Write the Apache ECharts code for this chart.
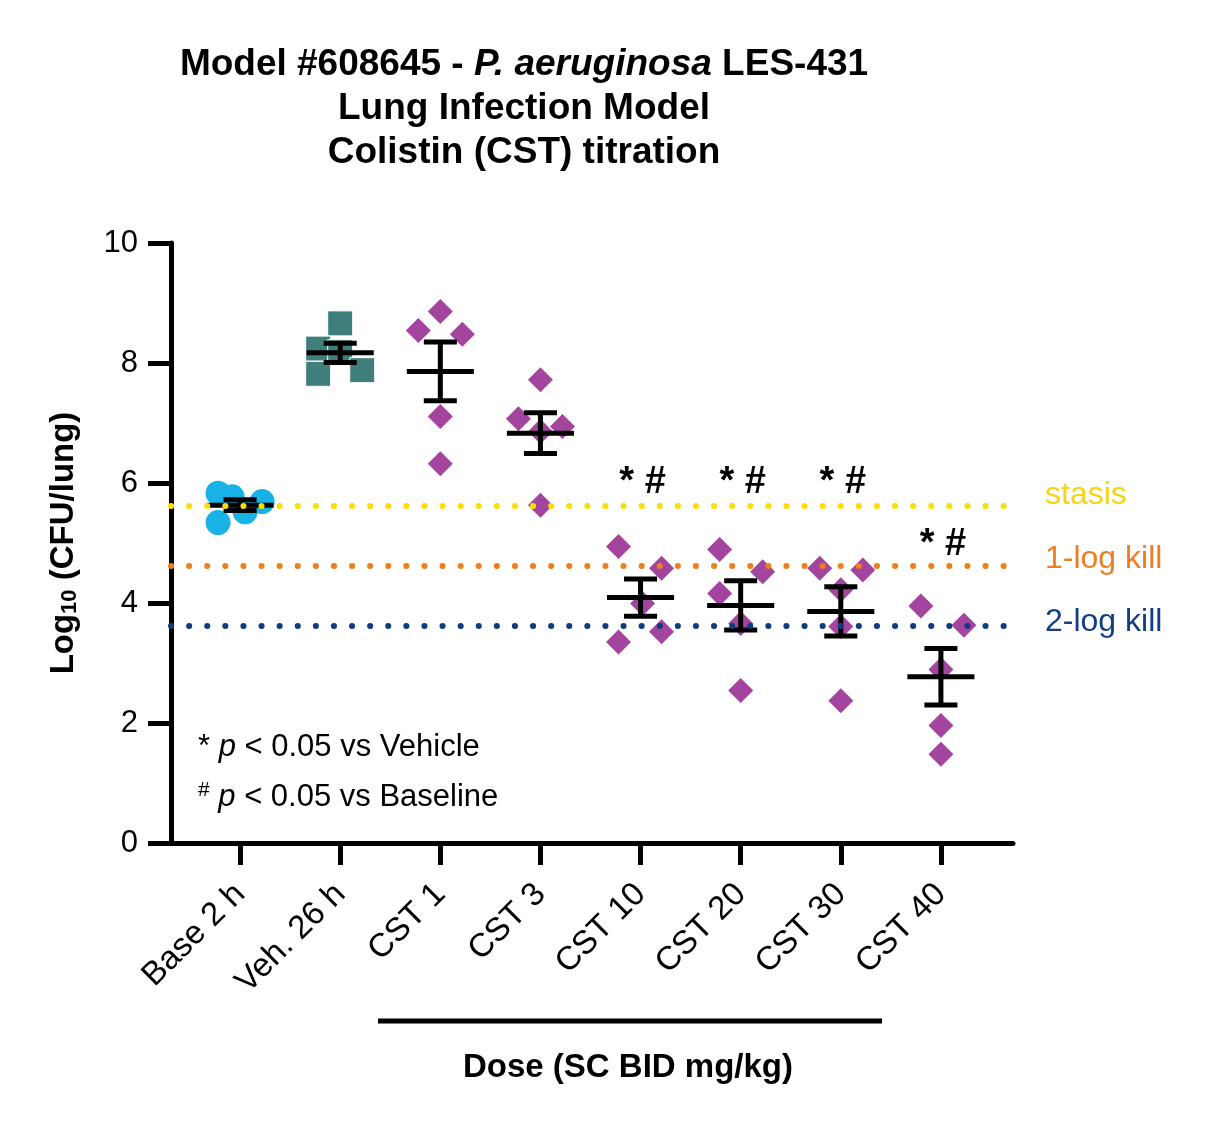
<!DOCTYPE html>
<html>
<head>
<meta charset="utf-8">
<script src="https://cdn.jsdelivr.net/npm/echarts@6/dist/echarts.min.js"></script>
<style>
html, body { margin: 0; padding: 0; background: #fff; }
#chartDom { width: 1205px; height: 1131px; }
</style>
</head>
<body>
<div id="chartDom"></div>
<script>
var groups = ['Base 2 h', 'Veh. 26 h', 'CST 1', 'CST 3', 'CST 10', 'CST 20', 'CST 30', 'CST 40'];

// log10 CFU/lung, one value per animal
var baseVals = [5.83, 5.77, 5.69, 5.52, 5.34];
var vehVals = [8.66, 8.24, 8.18, 7.88, 7.82];
var cst1Vals = [8.86, 8.54, 8.48, 7.11, 6.32];
var cst3Vals = [7.72, 7.07, 6.94, 6.86, 5.63];
var cst10Vals = [4.94, 4.58, 3.99, 3.52, 3.35];
var cst20Vals = [4.89, 4.52, 4.16, 3.66, 2.54];
var cst30Vals = [4.58, 4.55, 4.22, 3.61, 2.37];
var cst40Vals = [3.95, 3.63, 2.89, 1.96, 1.48];

// sideways spread of the points inside each column
var baseJitter = [-0.22, -0.08, 0.22, 0.05, -0.22];
var vehJitter = [0, -0.22, 0, 0.22, -0.22];
var cst1Jitter = [0, -0.22, 0.22, 0, 0];
var cst3Jitter = [0, -0.22, 0.22, 0, 0];
var cst10Jitter = [-0.22, 0.21, 0.02, 0.21, -0.22];
var cst20Jitter = [-0.21, 0.22, -0.21, 0, 0];
var cst30Jitter = [-0.21, 0.22, 0, 0, 0];
var cst40Jitter = [-0.2, 0.23, 0, 0, 0];

// mean +/- SEM per group
var means = [5.63, 8.17, 7.86, 6.83, 4.09, 3.96, 3.86, 2.77];
var sems = [0.09, 0.16, 0.49, 0.34, 0.31, 0.41, 0.41, 0.47];

var refLevels = [5.62, 4.62, 3.62];
var refNames = ['stasis', '1-log kill', '2-log kill'];
var refColors = ['#FFDD00', '#EF7E1D', '#0E3C7E'];
var refTextColors = ['#F8D316', '#EE7E22', '#123E82'];

var sigGroups = [4, 5, 6, 7];
var sigLevels = [6.0, 6.0, 6.0, 4.97];

var xTicks = [0, 1, 2, 3, 4, 5, 6, 7];

var FONT = 'Liberation Sans, Arial, Helvetica, sans-serif';

function points(idx, vals, jit) {
	return vals.map(function(v, k) {
		return [idx + jit[k], v];
	});
}

var diamondData = [].concat(
	points(2, cst1Vals, cst1Jitter),
	points(3, cst3Vals, cst3Jitter),
	points(4, cst10Vals, cst10Jitter),
	points(5, cst20Vals, cst20Jitter),
	points(6, cst30Vals, cst30Jitter),
	points(7, cst40Vals, cst40Jitter)
);

var errData = means.map(function(m, i) {
	return [i, m, sems[i]];
});

var sigData = sigGroups.map(function(g, i) {
	return [g, sigLevels[i]];
});

var refLines = refLevels.map(function(lv, i) {
	return {
		yAxis: lv,
		lineStyle: {
			color: refColors[i],
			width: 6,
			type: [0.1, 18],
			cap: 'round'
		}
	};
});

var dom = document.getElementById('chartDom');
var myChart = echarts.init(dom);

var option = {
	animation: false,
	backgroundColor: '#fff',
	textStyle: {
		fontFamily: FONT,
		color: '#000'
	},
	grid: {
		left: 171,
		right: 192,
		top: 243,
		bottom: 288
	},
	xAxis: {
		type: 'value',
		min: -0.69,
		max: 7.72,
		splitLine: { show: false },
		axisLine: {
			show: true,
			onZero: false,
			lineStyle: { color: '#000', width: 5 }
		},
		axisTick: {
			show: true,
			length: 22,
			customValues: xTicks,
			lineStyle: { color: '#000', width: 5 }
		},
		axisLabel: {
			customValues: xTicks,
			formatter: function(v) {
				return groups[Math.round(v)];
			},
			rotate: 45,
			margin: 46,
			fontSize: 33,
			color: '#000',
			fontFamily: FONT
		}
	},
	yAxis: {
		type: 'value',
		min: 0,
		max: 10,
		interval: 2,
		name: '{a|Log}{s|10}{a| (CFU/lung)}',
		nameLocation: 'middle',
		nameRotate: 90,
		nameGap: 90,
		nameTextStyle: {
			rich: {
				a: { fontSize: 33, fontWeight: 'bold', fontFamily: FONT, color: '#000' },
				s: { fontSize: 22, fontWeight: 'bold', fontFamily: FONT, color: '#000', verticalAlign: 'bottom', padding: [12, 0, 0, 0] }
			}
		},
		splitLine: { show: false },
		axisLine: {
			show: true,
			onZero: false,
			lineStyle: { color: '#000', width: 5 }
		},
		axisTick: {
			show: true,
			length: 23,
			lineStyle: { color: '#000', width: 5 }
		},
		axisLabel: {
			margin: 33,
			fontSize: 31,
			color: '#000',
			fontFamily: FONT
		}
	},
	graphic: [
		{
			type: 'text',
			x: 524,
			y: 43,
			style: {
				text: '{b|Model #608645 - }{i|P. aeruginosa}{b| LES-431}\n{b|Lung Infection Model}\n{b|Colistin (CST) titration}',
				align: 'center',
				verticalAlign: 'top',
				rich: {
					b: { fontSize: 37, fontWeight: 'bold', fontFamily: FONT, lineHeight: 44, fill: '#000' },
					i: { fontSize: 37, fontWeight: 'bold', fontStyle: 'italic', fontFamily: FONT, lineHeight: 44, fill: '#000' }
				}
			}
		},
		{
			type: 'text',
			x: 198,
			y: 747,
			style: {
				text: '{n|* }{i|p }{n|< 0.05 vs Vehicle}',
				verticalAlign: 'middle',
				rich: {
					n: { fontSize: 31, fontFamily: FONT, fill: '#000' },
					i: { fontSize: 31, fontFamily: FONT, fontStyle: 'italic', fill: '#000' }
				}
			}
		},
		{
			type: 'text',
			x: 198,
			y: 797,
			style: {
				text: '{s|#}{i| p }{n|< 0.05 vs Baseline}',
				verticalAlign: 'middle',
				rich: {
					s: { fontSize: 21, fontFamily: FONT, fill: '#000', verticalAlign: 'top', padding: [0, 0, 14, 0] },
					n: { fontSize: 31, fontFamily: FONT, fill: '#000' },
					i: { fontSize: 31, fontFamily: FONT, fontStyle: 'italic', fill: '#000' }
				}
			}
		},
		{
			type: 'text',
			x: 1045,
			y: 495,
			style: { text: refNames[0], fontSize: 32, fontFamily: FONT, fill: refTextColors[0], verticalAlign: 'middle' }
		},
		{
			type: 'text',
			x: 1045,
			y: 559,
			style: { text: refNames[1], fontSize: 32, fontFamily: FONT, fill: refTextColors[1], verticalAlign: 'middle' }
		},
		{
			type: 'text',
			x: 1045,
			y: 622,
			style: { text: refNames[2], fontSize: 32, fontFamily: FONT, fill: refTextColors[2], verticalAlign: 'middle' }
		},
		{
			type: 'line',
			shape: { x1: 378, y1: 1021, x2: 882, y2: 1021 },
			style: { stroke: '#000', lineWidth: 5 }
		},
		{
			type: 'text',
			x: 628,
			y: 1068,
			style: {
				text: 'Dose (SC BID mg/kg)',
				fontSize: 33,
				fontWeight: 'bold',
				fontFamily: FONT,
				fill: '#000',
				align: 'center',
				verticalAlign: 'middle'
			}
		}
	],
	series: [
		{
			name: groups[0],
			type: 'scatter',
			symbol: 'circle',
			symbolSize: 25,
			itemStyle: { color: '#18B2E6', opacity: 1 },
			data: points(0, baseVals, baseJitter),
			z: 2
		},
		{
			name: groups[1],
			type: 'scatter',
			symbol: 'rect',
			symbolSize: 25,
			itemStyle: { color: '#3F7F7B', borderColor: '#fff', borderWidth: 1, opacity: 1 },
			data: points(1, vehVals, vehJitter),
			z: 2
		},
		{
			name: 'CST',
			type: 'scatter',
			symbol: 'diamond',
			symbolSize: 25,
			itemStyle: { color: '#A3449E', opacity: 1 },
			data: diamondData,
			z: 2
		},
		{
			name: 'mean',
			type: 'custom',
			data: errData,
			z: 3,
			renderItem: function(params, api) {
				var x = api.value(0);
				var m = api.value(1);
				var s = api.value(2);
				var c = api.coord([x, m]);
				var hi = api.coord([x, m + s]);
				var lo = api.coord([x, m - s]);
				var w = api.size([0.335, 0])[0];
				var cw = api.size([0.165, 0])[0];
				var st = { stroke: '#000', lineWidth: 5 };
				return {
					type: 'group',
					children: [
						{ type: 'line', shape: { x1: c[0] - w, y1: c[1], x2: c[0] + w, y2: c[1] }, style: st },
						{ type: 'line', shape: { x1: c[0], y1: hi[1], x2: c[0], y2: lo[1] }, style: st },
						{ type: 'line', shape: { x1: c[0] - cw, y1: hi[1], x2: c[0] + cw, y2: hi[1] }, style: st },
						{ type: 'line', shape: { x1: c[0] - cw, y1: lo[1], x2: c[0] + cw, y2: lo[1] }, style: st }
					]
				};
			}
		},
		{
			name: 'refs',
			type: 'line',
			data: [],
			z: 5,
			markLine: {
				silent: true,
				symbol: ['none', 'none'],
				label: { show: false },
				data: refLines,
				z: 5
			}
		},
		{
			name: 'sig',
			type: 'custom',
			data: sigData,
			z: 4,
			renderItem: function(params, api) {
				var p = api.coord([api.value(0), api.value(1)]);
				return {
					type: 'text',
					x: p[0] + 2,
					y: p[1],
					style: {
						text: '* #',
						fill: '#000',
						font: 'bold 38px ' + FONT,
						align: 'center',
						verticalAlign: 'middle'
					}
				};
			}
		}
	]
};

myChart.setOption(option, true);
</script>
</body>
</html>
